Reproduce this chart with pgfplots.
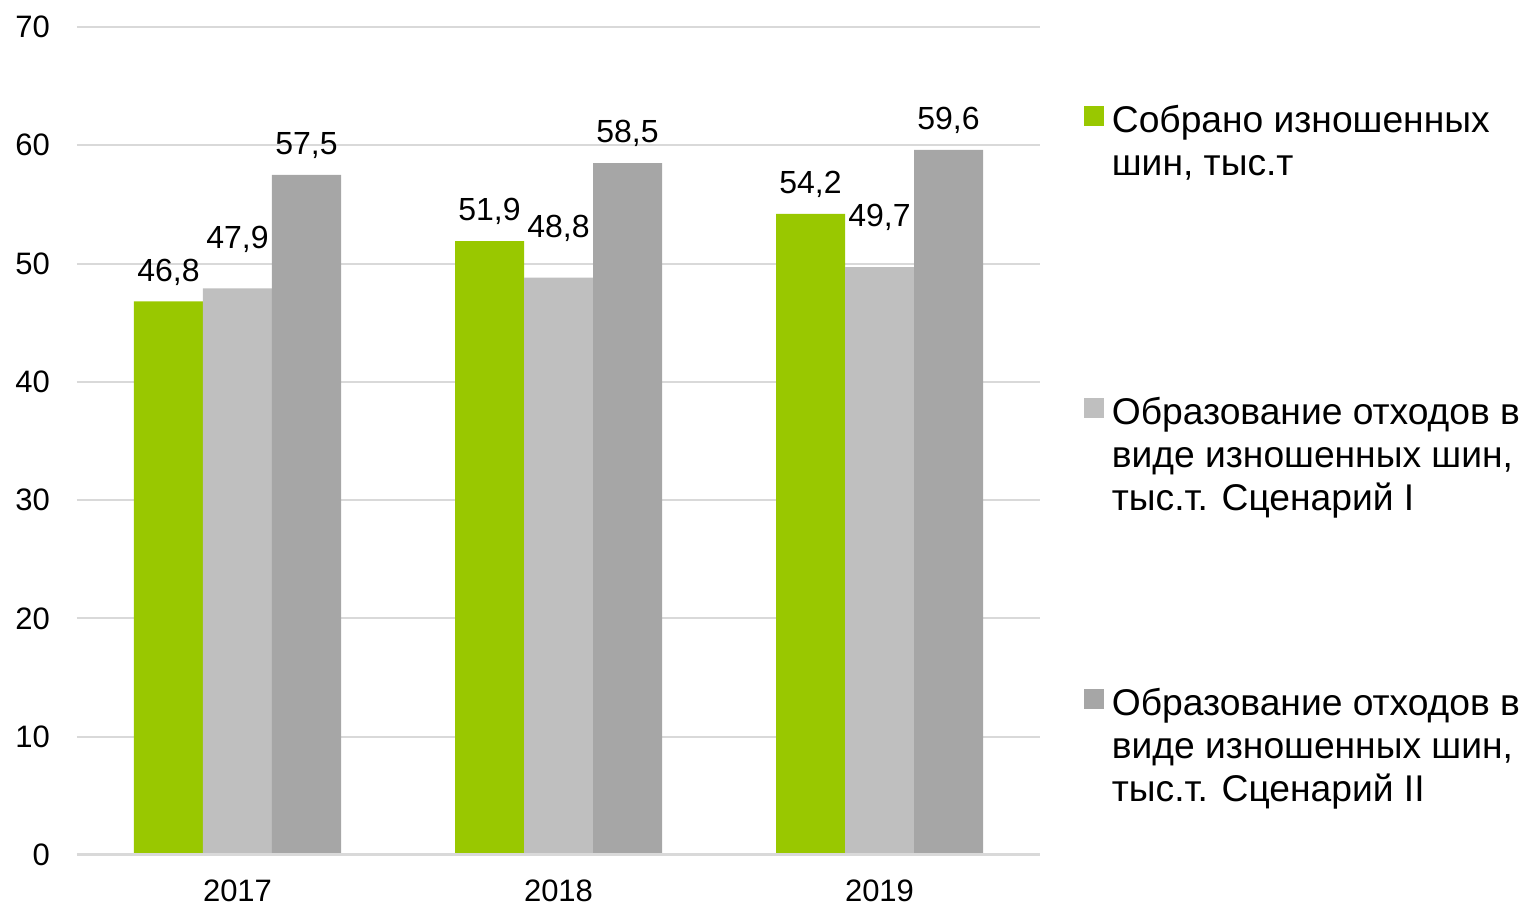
\documentclass[border=0pt]{standalone}
\usepackage{pgfplots}
\pgfplotsset{compat=1.18}
\usepackage{fontspec}
\setmainfont{Liberation Sans}
\definecolor{cgreen}{HTML}{99C800}
\definecolor{clight}{HTML}{BFBFBF}
\definecolor{cdark}{HTML}{A6A6A6}
\definecolor{gridgray}{HTML}{D9D9D9}
\begin{document}
\begin{tikzpicture}
\begin{axis}[
  name=ax,
  scale only axis,
  width=481.5pt, height=414pt,
  xmin=-0.5, xmax=2.5,
  ymin=0, ymax=70,
  ytick={0,10,...,70},
  xtick={0,1,2},
  xticklabels={2017,2018,2019},
  ybar=0pt, bar width=34.5pt,
  axis line style={draw=none},
  major tick length=0pt,
  ymajorgrids,
  major grid style={color=gridgray, line width=1pt},
  /pgf/number format/assume math mode=true,
  ticklabel style={font=\fontsize{15.5}{18}\selectfont},
  yticklabel style={xshift=-10pt},
  xticklabel style={yshift=-9pt},
  nodes near coords,
  nodes near coords style={/pgf/number format/fixed, /pgf/number format/fixed zerofill, /pgf/number format/precision=1, /pgf/number format/use comma, /pgf/number format/assume math mode=true, /tikz/font=\fontsize{16}{19}\selectfont, /tikz/yshift=4.5pt},
  every axis plot/.append style={draw=none},
  legend style={draw=none, fill=none, inner sep=0pt, outer sep=0pt, at={(1.0456,0.9136)}, anchor=north west,
    nodes={inner sep=2pt}, font=\fontsize{18.6}{21.5}\selectfont,
    row sep=125.25pt},
  legend cell align=left,
  legend image code/.code={\fill[#1] (0pt,-3.5pt) rectangle (10pt,6.5pt);},
  after end axis/.code={\draw[gridgray,line width=1.5pt] (rel axis cs:0,0) -- (rel axis cs:1,0);},
]
\addplot[fill=cgreen] coordinates {(0,46.8) (1,51.9) (2,54.2)};
\addplot[fill=clight, nodes near coords style={/tikz/yshift=10pt}] coordinates {(0,47.9) (1,48.8) (2,49.7)};
\addplot[fill=cdark] coordinates {(0,57.5) (1,58.5) (2,59.6)};
\addlegendentry{\begin{tabular}[t]{@{\hspace{2pt}}l@{}}Собрано изношенных\\шин, тыс.т\end{tabular}}
\addlegendentry{\begin{tabular}[t]{@{\hspace{2pt}}l@{}}Образование отходов в\\виде изношенных шин,\\тыс.т. Сценарий I\end{tabular}}
\addlegendentry{\begin{tabular}[t]{@{\hspace{2pt}}l@{}}Образование отходов в\\виде изношенных шин,\\тыс.т. Сценарий II\end{tabular}}
\end{axis}
\path ([shift={(-38.5pt,-26pt)}]ax.south west) rectangle ([shift={(243pt,13.5pt)}]ax.north east);
\end{tikzpicture}
\end{document}
